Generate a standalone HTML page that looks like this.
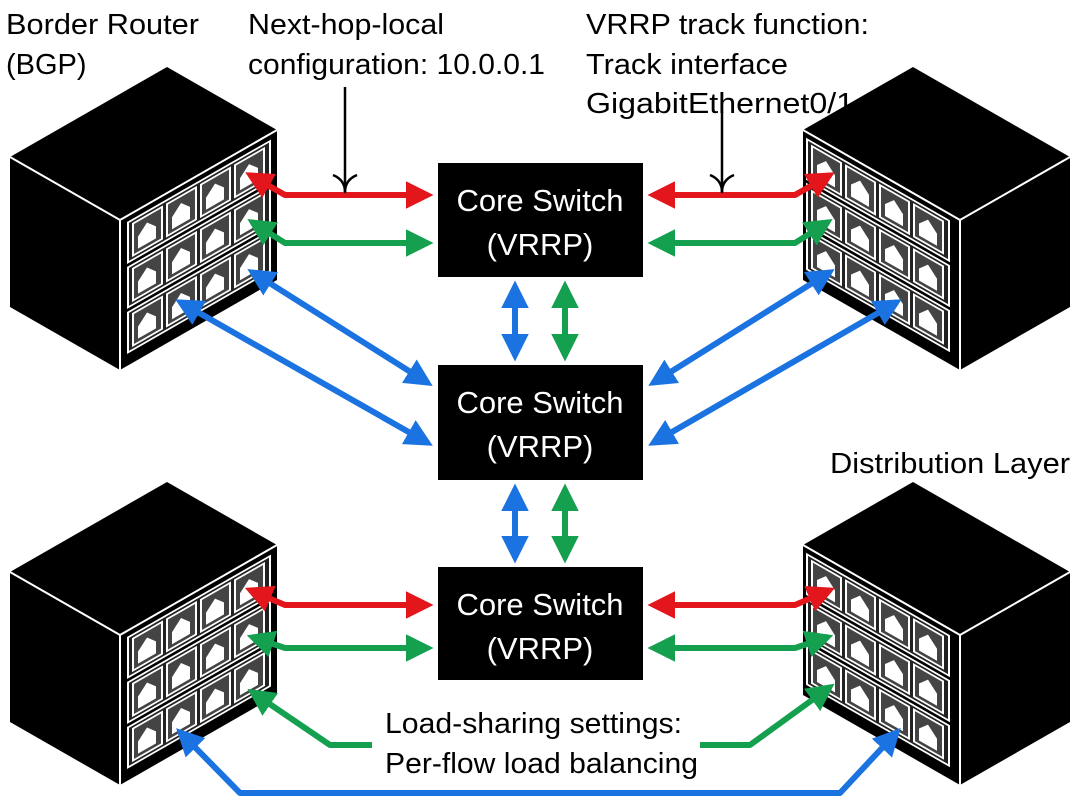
<!DOCTYPE html>
<html><head><style>
html,body{margin:0;padding:0;background:#fff;}
svg{display:block;}
text{font-family:"Liberation Sans",Arial,sans-serif;}
</style></head><body>
<svg width="1080" height="810" viewBox="0 0 1080 810" xmlns="http://www.w3.org/2000/svg">
<defs>
<marker id="ar" viewBox="0 0 10 10" refX="8" refY="5" markerWidth="4.6" markerHeight="4.6" orient="auto-start-reverse"><path d="M0,0 L10,5 L0,10 z" fill="#e3161c"/></marker>
<marker id="ag" viewBox="0 0 10 10" refX="8" refY="5" markerWidth="4.6" markerHeight="4.6" orient="auto-start-reverse"><path d="M0,0 L10,5 L0,10 z" fill="#14a04e"/></marker>
<marker id="ab" viewBox="0 0 10 10" refX="8" refY="5" markerWidth="4.6" markerHeight="4.6" orient="auto-start-reverse"><path d="M0,0 L10,5 L0,10 z" fill="#1a73e0"/></marker>
<g id="row">
  <rect x="8" y="0" width="142" height="40" fill="#222" stroke="#fff" stroke-width="2"/>
  <g fill="#fff">
    <rect x="13" y="4" width="29" height="32" fill="#444" stroke="#fff" stroke-width="2"/>
    <rect x="47" y="4" width="29" height="32" fill="#444" stroke="#fff" stroke-width="2"/>
    <rect x="81" y="4" width="29" height="32" fill="#444" stroke="#fff" stroke-width="2"/>
    <rect x="115" y="4" width="29" height="32" fill="#444" stroke="#fff" stroke-width="2"/>
    <path d="M18,20 l9,-9 l9,9 v12 h-18z"/>
    <path d="M52,20 l9,-9 l9,9 v12 h-18z"/>
    <path d="M86,20 l9,-9 l9,9 v12 h-18z"/>
    <path d="M120,20 l9,-9 l9,9 v12 h-18z"/>
  </g>
</g>
<g id="cubeL">
  <polygon points="10,157 167,67 277,130 120,220" fill="#000"/>
  <polygon points="10,157 120,220 120,370 10,307" fill="#000"/>
  <polygon points="120,220 277,130 277,280 120,370" fill="#000"/>
  <polyline points="10,157 120,220 277,130" fill="none" stroke="#fff" stroke-width="2"/>
  <line x1="120" y1="220" x2="120" y2="370" stroke="#fff" stroke-width="2"/>
  <g transform="matrix(1,-0.573,0,1,120,220)">
    <use href="#row" y="7"/><use href="#row" y="52"/><use href="#row" y="97"/>
  </g>
</g>
<g id="cubeR">
  <polygon points="803,130 913,67 1070,157 960,220" fill="#000"/>
  <polygon points="960,220 1070,157 1070,307 960,370" fill="#000"/>
  <polygon points="803,130 960,220 960,370 803,280" fill="#000"/>
  <polyline points="803,130 960,220 1070,157" fill="none" stroke="#fff" stroke-width="2"/>
  <line x1="960" y1="220" x2="960" y2="370" stroke="#fff" stroke-width="2"/>
  <g transform="matrix(1,0.573,0,1,803,130)">
    <use href="#row" x="-4" y="7"/><use href="#row" x="-4" y="52"/><use href="#row" x="-4" y="97"/>
  </g>
</g>
</defs>

<use href="#cubeL"/>
<use href="#cubeR"/>
<use href="#cubeL" y="415"/>
<use href="#cubeR" y="415"/>

<g fill="#000">
<rect x="438" y="163" width="205" height="114"/>
<rect x="438" y="365" width="205" height="115"/>
<rect x="438" y="567" width="205" height="113"/>
</g>
<g fill="#fff" font-size="31" text-anchor="middle">
<text x="540" y="211">Core Switch</text><text x="540" y="255">(VRRP)</text>
<text x="540" y="413">Core Switch</text><text x="540" y="457">(VRRP)</text>
<text x="540" y="615">Core Switch</text><text x="540" y="659">(VRRP)</text>
</g>

<g fill="none" stroke-width="6" stroke-linejoin="round">
<polyline points="250,175 285,195 428,195" stroke="#e3161c" marker-start="url(#ar)" marker-end="url(#ar)"/>
<polyline points="252,222 285,243 428,243" stroke="#14a04e" marker-start="url(#ag)" marker-end="url(#ag)"/>
<polyline points="830,175 795,195 653,195" stroke="#e3161c" marker-start="url(#ar)" marker-end="url(#ar)"/>
<polyline points="828,222 795,243 653,243" stroke="#14a04e" marker-start="url(#ag)" marker-end="url(#ag)"/>
<line x1="252" y1="272" x2="428" y2="383" stroke="#1a73e0" marker-start="url(#ab)" marker-end="url(#ab)"/>
<line x1="180" y1="302" x2="428" y2="443" stroke="#1a73e0" marker-start="url(#ab)" marker-end="url(#ab)"/>
<line x1="830" y1="272" x2="653" y2="383" stroke="#1a73e0" marker-start="url(#ab)" marker-end="url(#ab)"/>
<line x1="897" y1="302" x2="653" y2="443" stroke="#1a73e0" marker-start="url(#ab)" marker-end="url(#ab)"/>
<line x1="515" y1="286" x2="515" y2="356" stroke="#1a73e0" marker-start="url(#ab)" marker-end="url(#ab)"/>
<line x1="565" y1="286" x2="565" y2="356" stroke="#14a04e" marker-start="url(#ag)" marker-end="url(#ag)"/>
<line x1="515" y1="489" x2="515" y2="558" stroke="#1a73e0" marker-start="url(#ab)" marker-end="url(#ab)"/>
<line x1="565" y1="489" x2="565" y2="558" stroke="#14a04e" marker-start="url(#ag)" marker-end="url(#ag)"/>
<polyline points="250,590 285,605 428,605" stroke="#e3161c" marker-start="url(#ar)" marker-end="url(#ar)"/>
<polyline points="252,637 285,648 428,648" stroke="#14a04e" marker-start="url(#ag)" marker-end="url(#ag)"/>
<polyline points="830,590 795,605 653,605" stroke="#e3161c" marker-start="url(#ar)" marker-end="url(#ar)"/>
<polyline points="828,637 795,648 653,648" stroke="#14a04e" marker-start="url(#ag)" marker-end="url(#ag)"/>
<polyline points="252,692 330,745 372,745" stroke="#14a04e" marker-start="url(#ag)"/>
<polyline points="830,687 750,745 700,745" stroke="#14a04e" marker-start="url(#ag)"/>
<polyline points="180,732 240,793 840,793 897,732" stroke="#1a73e0" marker-start="url(#ab)" marker-end="url(#ab)"/>
<line x1="345" y1="87" x2="345" y2="192" stroke="#000" stroke-width="2.5"/>
<path d="M333,175 Q345,180 345,192 Q345,180 357,175" stroke="#000" stroke-width="2.5"/>
<line x1="722" y1="112" x2="722" y2="192" stroke="#000" stroke-width="2.5"/>
<path d="M710,175 Q722,180 722,192 Q722,180 734,175" stroke="#000" stroke-width="2.5"/>
</g>

<g fill="#000" font-size="29">
<text x="6" y="34" textLength="193" lengthAdjust="spacingAndGlyphs">Border Router</text>
<text x="6" y="74">(BGP)</text>
<text x="248" y="34" textLength="196" lengthAdjust="spacingAndGlyphs">Next-hop-local</text>
<text x="248" y="74" textLength="297" lengthAdjust="spacingAndGlyphs">configuration: 10.0.0.1</text>
<text x="586" y="34" textLength="283" lengthAdjust="spacingAndGlyphs">VRRP track function:</text>
<text x="586" y="74" textLength="202" lengthAdjust="spacingAndGlyphs">Track interface</text>
<text x="586" y="113" textLength="268" lengthAdjust="spacingAndGlyphs">GigabitEthernet0/1</text>
<text x="830" y="473" textLength="240" lengthAdjust="spacingAndGlyphs">Distribution Layer</text>
<text x="385" y="733" textLength="297" lengthAdjust="spacingAndGlyphs">Load-sharing settings:</text>
<text x="385" y="773" textLength="313" lengthAdjust="spacingAndGlyphs">Per-flow load balancing</text>
</g>
</svg>
</body></html>
